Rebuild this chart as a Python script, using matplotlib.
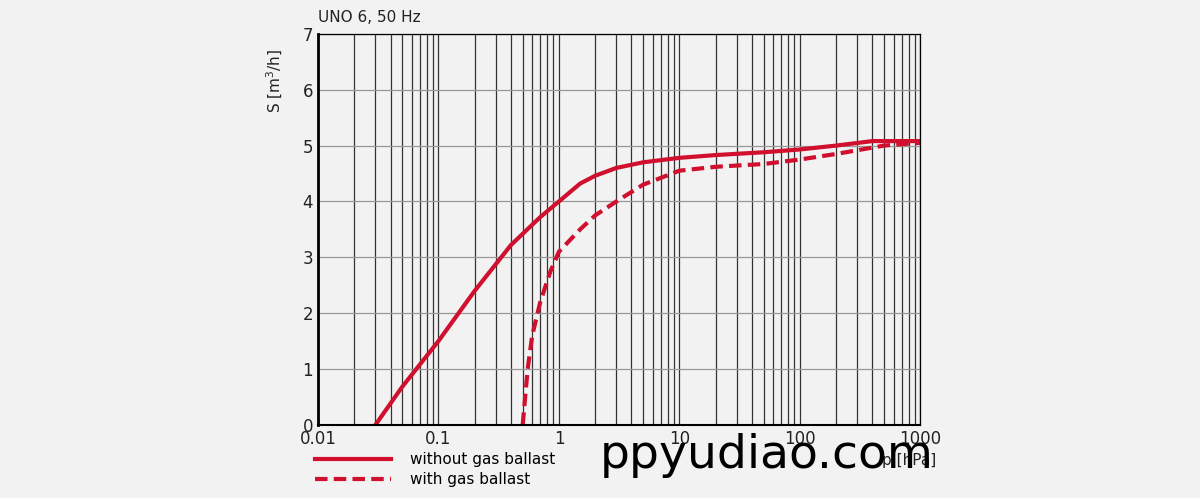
import matplotlib
matplotlib.use("Agg")
import matplotlib.pyplot as plt
import numpy as np

p_solid = [0.03, 0.05, 0.1, 0.2, 0.4, 0.7, 1, 1.5, 2, 3, 5, 10, 20, 50, 100, 200, 400, 1000]
s_solid = [0, 0.68, 1.5, 2.4, 3.22, 3.72, 4.0, 4.32, 4.46, 4.6, 4.7, 4.78, 4.83, 4.88, 4.93, 5.0, 5.08, 5.08]
p_dash = [0.5, 0.55, 0.6, 0.7, 0.85, 1, 1.5, 2, 3, 5, 10, 20, 50, 100, 200, 500, 1000]
s_dash = [0, 1.0, 1.6, 2.2, 2.75, 3.1, 3.5, 3.75, 4.0, 4.3, 4.55, 4.62, 4.67, 4.75, 4.85, 5.0, 5.05]
xticks = [0.01, 0.1, 1, 10, 100, 1000]
xticklabels = ["0.01", "0.1", "1", "10", "100", "1000"]
yticks = [0, 1, 2, 3, 4, 5, 6, 7]

bg = "#f2f2f2"
red = "#d0102e"
fig = plt.figure(figsize=(12, 4.98), dpi=100, facecolor=bg)
ax = fig.add_axes([0.265, 0.147, 0.502, 0.785], facecolor=bg)
ax.set_xscale("log")
ax.set_xlim(0.01, 1000)
ax.set_ylim(0, 7)
ax.set_xticks(xticks)
ax.set_xticklabels(xticklabels)
ax.set_yticks(yticks)
ax.xaxis.set_minor_formatter(matplotlib.ticker.NullFormatter())
ax.grid(True, which="both", axis="x", color="#333333", lw=0.9)
ax.grid(True, which="major", axis="y", color="#999999", lw=0.9)
ax.tick_params(length=0, which="both", labelsize=12, colors="#222222")
for s in ["top", "right"]:
    ax.spines[s].set_linewidth(0.9)
ax.spines["left"].set_linewidth(2)
ax.spines["bottom"].set_linewidth(1.5)
ax.set_axisbelow(True)

ax.plot(p_solid, s_solid, color=red, lw=3, label="without gas ballast", solid_joinstyle="round")
ax.plot(p_dash, s_dash, color=red, lw=3, ls=(0, (3, 1.5)), label="with gas ballast")

ax.set_ylabel("S [m$^3$/h]", fontsize=11, color="#222222", labelpad=8)
ax.yaxis.set_label_coords(-0.055, 0.88)
fig.text(0.265, 0.965, "UNO 6, 50 Hz", fontsize=11, color="#222222", va="center")
fig.text(0.735, 0.075, "p [hPa]", fontsize=11, color="#222222", va="center")

ax.legend(loc="upper left", bbox_to_anchor=(-0.015, -0.055), frameon=False, fontsize=11,
          handlelength=5, labelspacing=0.3, handletextpad=1.2, borderaxespad=0)
fig.text(0.5, 0.085, "ppyudiao.com", fontsize=34, color="black", va="center", ha="left")
fig.savefig("out.png", dpi=100, facecolor=bg)
